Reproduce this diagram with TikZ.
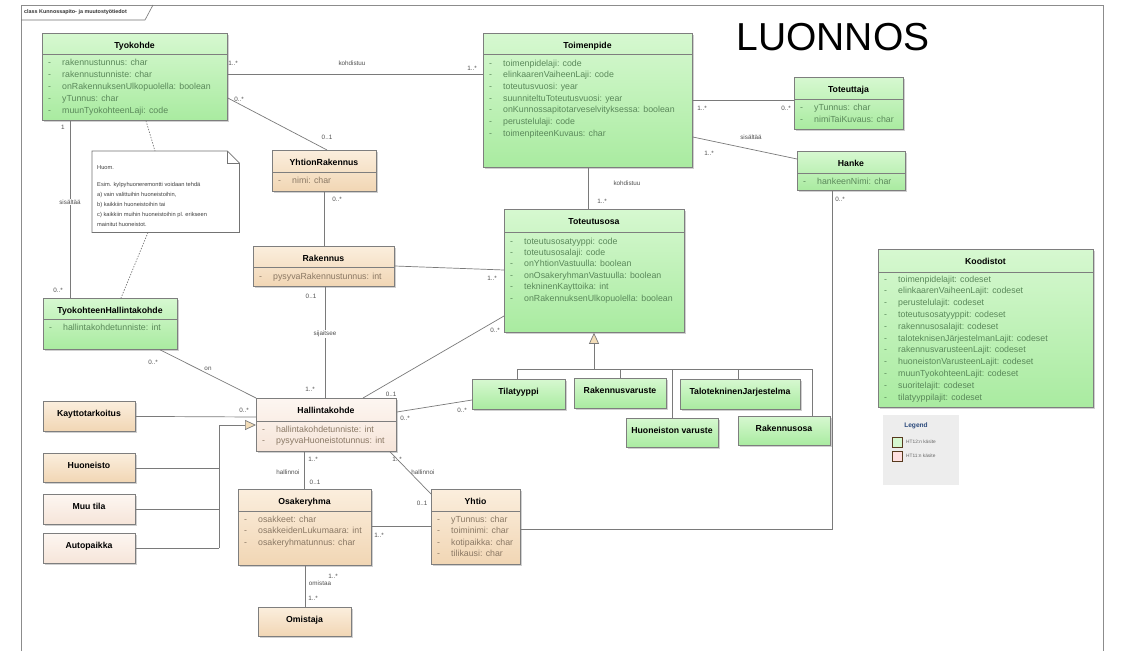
\documentclass[tikz,border=0pt]{standalone}
\usepackage{fontspec}
\setmainfont{Liberation Sans}
\usetikzlibrary{arrows.meta,calc,shadows}

\definecolor{gfillA}{HTML}{D6F8D0}
\definecolor{gfillB}{HTML}{A9EBA0}
\definecolor{tfillA}{HTML}{FBEEDD}
\definecolor{tfillB}{HTML}{F1D6B4}
\definecolor{pfillA}{HTML}{FDF6F1}
\definecolor{pfillB}{HTML}{F6E5D9}
\definecolor{boxline}{HTML}{7E7E7E}
\definecolor{conn}{HTML}{7A7A7A}
\definecolor{gtext}{HTML}{5A885A}
\definecolor{ttext}{HTML}{8A7864}
\definecolor{labtext}{HTML}{505050}
\definecolor{genfill}{HTML}{F3DDB8}
\definecolor{legbg}{HTML}{EDEDED}
\definecolor{legblue}{HTML}{2B4A7C}

\tikzset{
  classbox/.style={draw=boxline, line width=0.8pt, inner sep=0pt, anchor=north west,
    drop shadow={shadow xshift=1.2pt, shadow yshift=-1.2pt, opacity=0.3, fill=black!60}},
  greenbox/.style={classbox, top color=gfillA, bottom color=gfillB},
  tanbox/.style={classbox, top color=tfillA, bottom color=tfillB},
  palebox/.style={classbox, top color=pfillA, bottom color=pfillB},
  titletext/.style={font=\fontsize{8.7}{10}\selectfont\bfseries, inner sep=0pt, anchor=base},
  attrtext/.style={font=\fontsize{8.8}{10}\selectfont, inner sep=0pt, anchor=base west},
  assoc/.style={draw=conn, line width=0.7pt},
  gen/.style={assoc, -{Triangle[length=11pt, width=10pt, fill=genfill]}},
  notelink/.style={draw=conn, line width=0.7pt, dash pattern=on 1.4pt off 1.4pt},
  mult/.style={font=\fontsize{6.3}{7}\selectfont, text=labtext, inner sep=0.5pt},
  onlinelab/.style={mult, fill=white, inner sep=1pt},
  notetext/.style={font=\fontsize{5.7}{6.5}\selectfont, text=black!75, inner sep=0pt, anchor=base west},
  legtext/.style={font=\fontsize{4.8}{5}\selectfont, text=black!60, inner sep=0pt, anchor=west},
  legkey/.style={draw=black!55!brown, line width=0.6pt, minimum size=10, inner sep=0pt, anchor=north west},
}

% class box: name, style, x1, y1, x2, y2, title
\newcommand\umlclass[7]{%
  \node[#2, minimum width={#5-#3}, minimum height={#6-#4}] (#1) at (#3,#4) {};
  \node[titletext] (#1-t) at ({(#3+#5)/2},{#4+15}) {#7};
}
% separator under the class name: name, offset from the top
\newcommand\umlsep[2]{%
  \draw[boxline, line width=0.8pt] ($(#1.north west)+(0,#2)$) -- ($(#1.north east)+(0,#2)$);
}
% attribute rows: name, x1, first row y, row step, colour, list
\newcommand\umlattrs[6]{%
  \foreach \atxt [count=\i from 0] in {#6} {
    \node[attrtext, text=#5] (#1-d\i) at ({#2+6}, {#3+3+\i*#4}) {-};
    \node[attrtext, text=#5] (#1-a\i) at ({#2+20}, {#3+3+\i*#4}) {\atxt};
  }
}

\begin{document}
\begin{tikzpicture}[x=1pt,y=-1pt]
\useasboundingbox (0,0) rectangle (1122,651);
\fill[white] (0,0) rectangle (1122,651);

% diagram frame with its name tab
\draw[draw=black!45, line width=0.8pt] (21,651) -- (21,5) -- (1103,5) -- (1103,651);
\draw[draw=black!55, line width=0.6pt] (21,20) -- (145,20) -- (153,5);
\node[font=\fontsize{5.4}{6}\selectfont\bfseries, text=black!80, inner sep=0pt, anchor=west]
  (frametitle) at (24,12.5) {class Kunnossapito- ja muutostyötiedot};

\node[font=\fontsize{39}{39}\selectfont, inner sep=0pt] (luonnos) at (833,37) {LUONNOS};

% junction points of the connector trees
\coordinate (bus) at (594,369);
\coordinate (hbus) at (219,425);
\coordinate (yhbend) at (832,529);

% ---------- classes ----------
\umlclass{tyo}{greenbox}{42}{33}{227}{120}{Tyokohde}
\umlsep{tyo}{21}
\umlattrs{tyo}{42}{62}{12}{gtext}{rakennustunnus: char,rakennustunniste: char,onRakennuksenUlkopuolella: boolean,yTunnus: char,muunTyokohteenLaji: code}

\umlclass{toim}{greenbox}{483}{33}{692}{167}{Toimenpide}
\umlsep{toim}{21}
\umlattrs{toim}{483}{63}{11.67}{gtext}{toimenpidelaji: code,elinkaarenVaiheenLaji: code,toteutusvuosi: year,suunniteltuToteutusvuosi: year,onKunnossapitotarveselvityksessa: boolean,perustelulaji: code,toimenpiteenKuvaus: char}

\umlclass{tot}{greenbox}{794}{77}{903}{129}{Toteuttaja}
\umlsep{tot}{22}
\umlattrs{tot}{794}{107}{12}{gtext}{yTunnus: char,nimiTaiKuvaus: char}

\umlclass{hanke}{greenbox}{797}{151}{905}{190}{Hanke}
\umlsep{hanke}{22}
\umlattrs{hanke}{797}{181}{12}{gtext}{hankeenNimi: char}

\umlclass{yr}{tanbox}{272}{150}{376}{191}{YhtionRakennus}
\umlsep{yr}{22}
\umlattrs{yr}{272}{180}{12}{ttext}{nimi: char}

\umlclass{rak}{tanbox}{253}{246}{394}{286}{Rakennus}
\umlsep{rak}{21}
\umlattrs{rak}{253}{276}{12}{ttext}{pysyvaRakennustunnus: int}

\umlclass{thk}{greenbox}{43}{298}{177}{349}{TyokohteenHallintakohde}
\umlsep{thk}{21}
\umlattrs{thk}{43}{327}{12}{gtext}{hallintakohdetunniste: int}

\umlclass{tos}{greenbox}{504}{209}{684}{332}{Toteutusosa}
\umlsep{tos}{23}
\umlattrs{tos}{504}{241}{11.4}{gtext}{toteutusosatyyppi: code,toteutusosalaji: code,onYhtionVastuulla: boolean,onOsakeryhmanVastuulla: boolean,tekninenKayttoika: int,onRakennuksenUlkopuolella: boolean}

\umlclass{hk}{palebox}{256}{398}{396}{451}{Hallintakohde}
\umlsep{hk}{23}
\umlattrs{hk}{256}{429}{11.5}{ttext}{hallintakohdetunniste: int,pysyvaHuoneistotunnus: int}

\umlclass{osak}{tanbox}{238}{489}{371}{565}{Osakeryhma}
\umlsep{osak}{22}
\umlattrs{osak}{238}{519}{11.5}{ttext}{osakkeet: char,osakkeidenLukumaara: int,osakeryhmatunnus: char}

\umlclass{yht}{tanbox}{431}{489}{520}{564}{Yhtio}
\umlsep{yht}{22}
\umlattrs{yht}{431}{519}{11.6}{ttext}{yTunnus: char,toiminimi: char,kotipaikka: char,tilikausi: char}

\umlclass{omis}{tanbox}{258}{607}{351}{636}{Omistaja}
\umlclass{kaytto}{tanbox}{43}{401}{135}{431}{Kayttotarkoitus}
\umlclass{huon}{tanbox}{43}{453}{135}{482}{Huoneisto}
\umlclass{muu}{palebox}{43}{494}{135}{524}{Muu tila}
\umlclass{auto}{palebox}{43}{533}{135}{563}{Autopaikka}

\umlclass{tila}{greenbox}{472}{379}{565}{409}{Tilatyyppi}
\umlclass{rv}{greenbox}{574}{378}{666}{408}{Rakennusvaruste}
\umlclass{tj}{greenbox}{680}{379}{800}{409}{TalotekninenJarjestelma}
\umlclass{hv}{greenbox}{626}{418}{718}{447}{Huoneiston varuste}
\umlclass{ro}{greenbox}{738}{416}{830}{445}{Rakennusosa}

\umlclass{kood}{greenbox}{878}{249}{1093}{407}{Koodistot}
\umlsep{kood}{23}
\umlattrs{kood}{878}{279}{11.8}{gtext}{toimenpidelajit: codeset,elinkaarenVaiheenLajit: codeset,perustelulajit: codeset,toteutusosatyyppit: codeset,rakennusosalajit: codeset,taloteknisenJärjestelmanLajit: codeset,rakennusvarusteenLajit: codeset,huoneistonVarusteenLajit: codeset,muunTyokohteenLajit: codeset,suoritelajit: codeset,tilatyyppilajit: codeset}

% ---------- note ----------
\node[inner sep=0pt, anchor=north west, minimum width=147, minimum height=81] (note) at (92,151) {};
\draw[draw=black!55, line width=0.7pt, fill=white]
  (note.north west) -- ($(note.north east)+(-12,0)$) -- ($(note.north east)+(0,12)$)
  -- (note.south east) -- (note.south west) -- cycle;
\draw[draw=black!55, line width=0.7pt]
  ($(note.north east)+(-12,0)$) -- ($(note.north east)+(-12,12)$) -- ($(note.north east)+(0,12)$);
\node[notetext] (note-1) at (97,169) {Huom.};
\node[notetext] (note-2) at (97,186) {Esim. kylpyhuoneremontti voidaan tehdä};
\node[notetext] (note-3) at (97,196.5) {a) vain valittuihin huoneistoihin,};
\node[notetext] (note-4) at (97,206.5) {b) kaikkiin huoneistoihin tai};
\node[notetext] (note-5) at (97,216.5) {c) kaikkiin muihin huoneistoihin pl. erikseen};
\node[notetext] (note-6) at (97,226.5) {mainitut huoneistot.};
\draw[notelink] (tyo.south -| 146,0) -- (note.north -| 155,0);
\draw[notelink] (note.south -| 148,0) -- (thk.north -| 121,0);

% ---------- legend ----------
\node[fill=legbg, inner sep=0pt, anchor=north west, minimum width=76, minimum height=70] (legend) at (883,415) {};
\node[font=\fontsize{6.6}{7}\selectfont\bfseries, text=legblue, inner sep=0pt] (legend-t) at (916,426) {Legend};
\node[legkey, fill=gfillA] (leg-g) at (892,437) {};
\node[legtext] (leg-gt) at (906,442) {HT12:n käsite};
\node[legkey, fill=red!12!white] (leg-p) at (892,451) {};
\node[legtext] (leg-pt) at (906,456) {HT11:n käsite};

% ---------- associations ----------
\draw[assoc] (tyo.east |- 0,74) -- (toim.west |- 0,74);
\draw[assoc] (tyo.east |- 0,98) -- (yr.north -| 327,0);
\draw[assoc] (tyo.south -| 70,0) -- (thk.north -| 70,0);
\draw[assoc] (yr.south -| 324,0) -- (rak.north -| 324,0);
\draw[assoc] (rak.south -| 325,0) -- (hk.north -| 325,0);
\draw[assoc] (rak.east |- 0,266) -- (tos.west |- 0,270);
\draw[assoc] (hk.north -| 363,0) -- (tos.west |- 0,316);
\draw[assoc] (thk.south -| 160,0) -- (hk.north west);
\draw[assoc] (kaytto.east) -- (hk.west |- 0,417);
\draw[assoc] (hk.east |- 0,412) -- (tila.west |- 0,400);
\draw[assoc] (hk.south -| 304,0) -- (osak.north -| 304,0);
\draw[assoc] (hk.south -| 390,0) -- (yht.west |- 0,494);
\draw[assoc] (osak.east |- 0,526) -- (yht.west |- 0,526);
\draw[assoc] (osak.south -| 305,0) -- (omis.north -| 305,0);
\draw[assoc] (yht.east |- yhbend) -- (yhbend) -- (hanke.south -| yhbend);
\draw[assoc] (toim.south -| 588,0) -- (tos.north -| 588,0);
\draw[assoc] (toim.east |- 0,100) -- (tot.west |- 0,100);
\draw[assoc] (toim.east |- 0,137) -- (hanke.west |- 0,159);

% generalisation tree under Toteutusosa
\draw[assoc] (tila.north -| 517,0) -- (bus -| 517,0) -- (bus -| 812,0) -- (ro.north -| 812,0);
\draw[assoc] (bus -| 620,0) -- (rv.north -| 620,0);
\draw[assoc] (bus -| 738,0) -- (tj.north -| 738,0);
\draw[assoc] (bus -| 672,0) -- (hv.north -| 672,0);
\draw[gen] (bus) -- (tos.south -| bus);

% generalisation into Hallintakohde
\draw[assoc] (hbus) -- (hbus |- auto.east);
\draw[assoc] (huon.east) -- (huon.east -| hbus);
\draw[assoc] (muu.east) -- (muu.east -| hbus);
\draw[assoc] (auto.east) -- (auto.east -| hbus);
\draw[gen] (hbus) -- (hk.west |- hbus);

% ---------- association labels ----------
\node[mult] (m1) at (233,63) {1..*};
\node[mult] (m2) at (352,63) {kohdistuu};
\node[mult] (m3) at (472,68) {1..*};
\node[mult] (m4) at (239,99) {0..*};
\node[mult] (m5) at (327,137) {0..1};
\node[mult] (m6) at (63,127) {1};
\node[onlinelab] (m7) at (70,202) {sisältää};
\node[mult] (m8) at (58,290) {0..*};
\node[mult] (m9) at (337,199) {0..*};
\node[mult] (m10) at (311,296) {0..1};
\node[onlinelab] (m11) at (325,334) {sijaitsee};
\node[mult] (m12) at (310,389) {1..*};
\node[mult] (m13) at (153,362) {0..*};
\node[mult] (m14) at (208,369) {on};
\node[mult] (m15) at (244,410) {0..*};
\node[mult] (m16) at (391,394) {0..1};
\node[mult] (m17) at (495,330) {0..*};
\node[mult] (m18) at (492,278) {1..*};
\node[mult] (m19) at (405,418) {0..*};
\node[mult] (m20) at (462,410) {0..*};
\node[mult] (m21) at (627,183) {kohdistuu};
\node[mult] (m22) at (602,201) {1..*};
\node[mult] (m23) at (702,108) {1..*};
\node[mult] (m24) at (786,108) {0..*};
\node[mult] (m25) at (751,137) {sisältää};
\node[mult] (m26) at (709,153) {1..*};
\node[mult] (m27) at (840,199) {0..*};
\node[mult] (m28) at (313,459) {1..*};
\node[mult] (m29) at (288,472) {hallinnoi};
\node[mult] (m30) at (315,482) {0..1};
\node[mult] (m31) at (397,459) {1..*};
\node[mult] (m32) at (423,472) {hallinnoi};
\node[mult] (m33) at (422,503) {0..1};
\node[mult] (m34) at (379,535) {1..*};
\node[mult] (m35) at (333,576) {1..*};
\node[mult] (m36) at (320,583) {omistaa};
\node[mult] (m37) at (313,598) {1..*};
\end{tikzpicture}
\end{document}
